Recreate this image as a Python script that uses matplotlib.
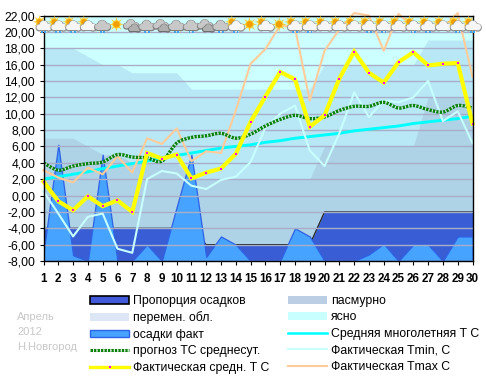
import matplotlib
matplotlib.use("Agg")
import matplotlib.pyplot as plt
from matplotlib.lines import Line2D
from matplotlib.patches import Patch, Circle, Rectangle, PathPatch, Polygon
from matplotlib.path import Path
from matplotlib.transforms import Affine2D, ScaledTranslation
from matplotlib.legend_handler import HandlerTuple

days = list(range(1, 31))
clear_top = [22] * 30
partly_top = [18, 18, 18, 17, 16, 16, 15, 15, 15, 15, 13, 13, 13, 13, 13, 13, 13, 13, 13, 16,
              16, 16, 16, 16, 16, 16, 19, 19, 19, 19]
overcast_top = [7, 7, 7, 6, 5, 5, 4, 4, 4, 4, 2, 2, 2, 2, 2, 2, 2, 2, 2, 6,
                6, 6, 6, 6, 6, 6, 12, 12, 12, 12]
precip_share = [-4, -4, -4, -4, -4, -4, -4, -4, -4, -4, -4, -6, -6, -6, -6, -6, -6, -6, -6, -2,
                -2, -2, -2, -2, -2, -2, -2, -2, -2, -2]
precip_fact = [-7, 6.2, -7.3, -8, 5, -8, -8, -6, -8, -1.4, 5, -7.5, -5, -6, -8, -8, -8, -4, -5, -8,
               -8, -8, -7.2, -5.9, -8, -6, -6, -8, -5, -5]
normal_t = [2.0, 2.3, 2.6, 2.9, 3.3, 3.6, 3.9, 4.2, 4.6, 4.9, 5.2, 5.5, 5.8, 6.0, 6.2, 6.5, 6.7, 7.0, 7.2, 7.4,
            7.6, 7.9, 8.1, 8.3, 8.5, 8.8, 9.0, 9.2, 9.4, 9.7]
forecast_t = [4, 3.1, 3.6, 3.9, 4.1, 5, 4.7, 4.6, 4.2, 6.4, 7.1, 7.3, 7.6, 7.0, 7.5, 8.5, 9.3, 9.8, 9.4, 9.6,
              10.4, 10.9, 10.9, 11.4, 10.7, 11.0, 10.5, 10.2, 11.0, 10.7]
tmin = [0.5, -2.2, -5, -2.6, -2.2, -6.5, -7, 2, 3, 2.7, 1.2, 0.8, 1.9, 2.3, 4.1, 8.3, 10, 11, 5.5, 3.6,
        7.6, 12.6, 9.6, 11.6, 11.4, 12, 14, 9.1, 10.3, 6.4]
tmax = [3.1, 2.2, 1.6, 3.4, 2.6, 4.8, 2.8, 7, 6.3, 8.2, 4.2, 5.4, 5.2, 10.4, 16.1, 17.9, 20.8, 20.5, 11.6, 17.7,
        20.3, 22.3, 22, 17.7, 22.2, 20.6, 20.5, 20.5, 22.3, 14.5]
tavg = [1.7, -0.7, -1.8, -0.1, -1.3, -0.6, -2, 5.2, 4.5, 5, 2.1, 2.8, 3.3, 5.1, 9, 12.1, 15.1, 14.2, 8.4, 9.8,
        14.3, 17.6, 15, 13.8, 16.3, 17.5, 15.9, 16.1, 16.2, 8.8]
icon_kinds = ["sc", "sc", "sc", "sc", "g", "s", "d", "g", "d", "g", "g", "d", "g", "sc", "s", "sc", "s", "sc", "sc", "sc",
              "sc", "sc", "sc", "sc", "sc", "sc", "sc", "sc", "sc", "sc"]
rain_days = [1, 2, 3, 5, 8, 10, 11, 13, 14, 18, 19, 23, 24, 26, 27, 29, 30]
y_ticks = list(range(-8, 24, 2))
y_labels = [f"{v},00" for v in y_ticks]
legend_labels = ["Пропорция осадков", "перемен. обл.", "осадки факт", "прогноз ТС среднесут.", "Фактическая средн. Т С",
                 "пасмурно", "ясно", "Средняя многолетняя Т С", "Фактическая Tmin, С", "Фактическая Tmax С"]
note_lines = ["Апрель", "2012", "Н.Новгород"]

plt.rcParams["font.family"] = ["Liberation Sans", "DejaVu Sans"]
plt.rcParams["lines.scale_dashes"] = False
W, H = 486, 380
fig = plt.figure(figsize=(W / 100, H / 100), dpi=100)
L, R, T, B = 43.5, 472.5, 15.5, 261.0
ax = fig.add_axes([L / W, 1 - B / H, (R - L) / W, (B - T) / H])
ax.set_xlim(1, 30)
ax.set_ylim(-8, 22)

C_CLEAR, C_PARTLY, C_OVER = "#CCFFFF", "#B8E8F6", "#AED2E6"
ax.fill_between(days, -8, clear_top, color=C_CLEAR, lw=0, zorder=1)
ax.fill_between(days, -8, partly_top, color=C_PARTLY, lw=0, zorder=1.1)
ax.fill_between(days, -8, overcast_top, color=C_OVER, lw=0, zorder=1.2)
ax.set_yticks(y_ticks, y_labels, fontsize=8.7)
ax.set_xticks(days, [str(d) for d in days], fontsize=8.4, fontweight="bold")
ax.grid(axis="y", color="#A9AEC8", lw=1.0)
ax.set_axisbelow(False)
for g in ax.get_ygridlines():
    g.set_zorder(1.5)
ax.tick_params(axis="y", length=3, width=0.8, pad=3, color="black")
ax.tick_params(axis="x", length=3, width=0.8, pad=6, color="black")
ax.fill_between(days, -8, precip_share, color="#3358D4", alpha=0.96, lw=0, zorder=2)
ax.plot(days, precip_share, color="#222222", lw=0.9, zorder=2.1)
ax.fill_between(days, -8, precip_fact, facecolor="#46A3FF", edgecolor="#2F62E6", lw=0.9, zorder=2.5)

ax.plot(days, normal_t, color="#00FFFF", lw=2.1, zorder=4, solid_capstyle="butt")
ax.plot(days, tmin, color="#C8FFFF", lw=1.5, zorder=5, clip_on=False)
ax.plot(days, tmax, color="#FFCC99", lw=1.5, zorder=5, clip_on=False)

# smooth forecast curve: Bezier path through the daily values
verts = [(days[0], forecast_t[0])]
codes = [Path.MOVETO]
n = len(days)
for i in range(n - 1):
    p0 = (days[max(i - 1, 0)], forecast_t[max(i - 1, 0)])
    p1 = (days[i], forecast_t[i])
    p2 = (days[i + 1], forecast_t[i + 1])
    p3 = (days[min(i + 2, n - 1)], forecast_t[min(i + 2, n - 1)])
    verts += [(p1[0] + (p2[0] - p0[0]) / 6, p1[1] + (p2[1] - p0[1]) / 6),
              (p2[0] - (p3[0] - p1[0]) / 6, p2[1] - (p3[1] - p1[1]) / 6),
              p2]
    codes += [Path.CURVE4] * 3
smooth = Path(verts, codes)
DASH_G = (0, (1.8, 0.7))
DASH_L = (0.7, (0.8, 1.7))
ax.add_patch(PathPatch(smooth, fc="none", ec="#0A7F0A", lw=2.4, ls=DASH_G, capstyle="butt", zorder=6))
ax.add_patch(PathPatch(smooth, fc="none", ec="#D8F5D8", lw=0.9, ls=DASH_L, capstyle="butt", zorder=6.1))

ax.plot(days, tavg, color="#FFFF00", lw=3.0, zorder=7, solid_joinstyle="miter",
        marker="s", ms=1.6, mfc="#FF00FF", mec="#FF00FF", mew=0, clip_on=False)

for s in ax.spines.values():
    s.set_color("black")
    s.set_linewidth(1.0)
    s.set_zorder(8)


# weather icons, shapes given in pixels around each day's anchor on the 20 line
def anchor(d):
    return Affine2D() + ScaledTranslation(d, 20, ax.transData)


def add(p):
    p.set_clip_on(False)
    p.set_zorder(9)
    ax.add_patch(p)


def cloud(tr, cx, cy, scale, fill, edge):
    parts = [(-5.0, -1.4, 2.8), (-0.5, 0.9, 4.2), (4.4, -1.2, 3.3)]
    for col, dy, extra in ((edge, -0.5, 0.9), (fill, 0.0, 0.0)):
        for px, py, r in parts:
            add(Circle((cx + px * scale, cy + py * scale + dy), r * scale + extra, fc=col, ec="none", transform=tr))
        add(Rectangle((cx - 5.5 * scale, cy - 4.2 * scale + dy - extra / 2), 10.5 * scale, 3.5 * scale, fc=col, ec="none", transform=tr))


def sun(tr, cx, cy, r):
    for a, b in ((1, 0), (0, 1), (.7, .7), (.7, -.7), (-1, 0), (0, -1), (-.7, .7), (-.7, -.7)):
        add(Polygon([(cx + a * r * 2.1, cy + b * r * 2.1), (cx - b * 1.2, cy + a * 1.2), (cx + b * 1.2, cy - a * 1.2)],
                    fc="#EFC21E", ec="none", transform=tr))
    add(Circle((cx, cy), r, fc="#F2A000", ec="#FFD840", lw=0.7, transform=tr))


for d, kind in zip(days, icon_kinds):
    tr = anchor(d)
    if kind == "sc":
        sun(tr, -4.0, 10.0, 3.4)
        cloud(tr, 0.8, 6.0, 1.0, "#F6F6F6", "#8F8F8F")
    elif kind == "g":
        cloud(tr, 0, 6.5, 1.0, "#C8C8C8", "#808080")
    elif kind == "s":
        sun(tr, -1.0, 7.5, 3.8)
    else:
        cloud(tr, -1, 7.5, 0.95, "#C8C8C8", "#808080")
        cloud(tr, 2.5, 4.0, 0.75, "#B0B0B0", "#6E6E6E")
for d in rain_days:
    tr = anchor(d)
    for dx in (-2.8, 0.8):
        add(Rectangle((dx, -1.3), 1.8, 2.2, fc="#4AA0E6", ec="none", transform=tr))

swatch = dict(lw=0)
h_share = Patch(fc="#4159D8", ec="black", lw=1.2)
h_partly = Patch(fc="#DCE6F4", **swatch)
h_fact = Patch(fc="#46A3FF", ec="#2F62E6", lw=1.0)
h_fore = (Line2D([], [], color="#0A7F0A", lw=2.2, ls=DASH_G),
          Line2D([], [], color="#D8F5D8", lw=0.8, ls=DASH_L))
h_avg = Line2D([], [], color="#FFFF00", lw=2.4, marker="s", ms=1.6, mfc="#FF00FF", mec="#FF00FF", mew=0)
h_over = Patch(fc="#BCCEE4", **swatch)
h_clear = Patch(fc="#C8FFFF", **swatch)
h_norm = Line2D([], [], color="#00FFFF", lw=1.8)
h_tmin = Line2D([], [], color="#C8FFFF", lw=1.5)
h_tmax = Line2D([], [], color="#FFCC99", lw=1.5)
handles = [h_share, h_partly, h_fact, h_fore, h_avg, h_over, h_clear, h_norm, h_tmin, h_tmax]
fig.legend(handles, legend_labels, ncol=2, loc="upper left", bbox_to_anchor=(90 / W, 1 - 295 / H),
           frameon=False, fontsize=8.8, handlelength=3.2, handleheight=0.6, handletextpad=0.33, columnspacing=1.5,
           labelspacing=0.367, borderpad=0, borderaxespad=0, numpoints=1,
           handler_map={tuple: HandlerTuple(ndivide=1, pad=0)})

for txt, y in zip(note_lines, (317, 332, 347)):
    fig.text(17 / W, 1 - y / H, txt, fontsize=8, color="#C8C8C8", va="center", ha="left")

fig.savefig("out.png", dpi=100)
